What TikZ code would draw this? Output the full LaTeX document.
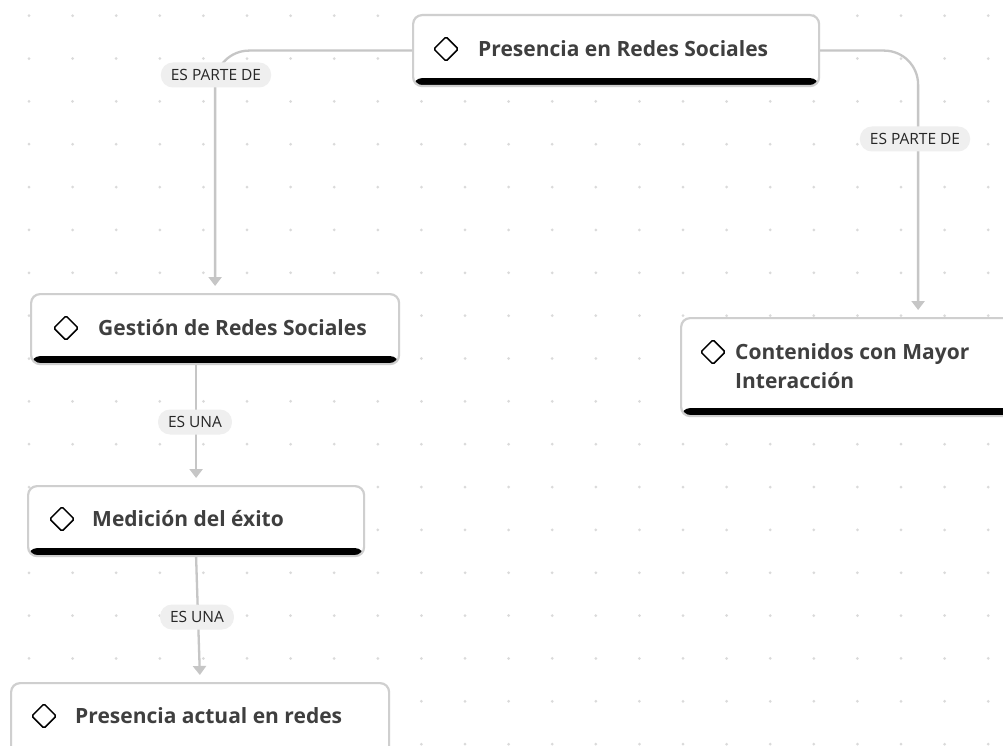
\documentclass[tikz,border=0pt]{standalone}
\usepackage{fontspec}
\setmainfont{Open Sans}
\usetikzlibrary{arrows.meta,shapes.geometric}
\definecolor{edgegray}{HTML}{C6C6C6}
\definecolor{boxgray}{HTML}{CFCFCF}
\definecolor{dotgray}{HTML}{DADADA}
\definecolor{lblfill}{HTML}{EFEFEF}
\definecolor{txt}{HTML}{3F3F3F}
\definecolor{lbltxt}{HTML}{262626}
\begin{document}
\begin{tikzpicture}[x=1pt,y=-1pt,
  box/.style={draw=boxgray, line width=2.2pt, fill=white, rounded corners=9pt,
    anchor=north west, inner sep=0pt,
    path picture={\fill[black] ([yshift=8pt]path picture bounding box.south west) rectangle (path picture bounding box.south east);}},
  icon/.style={draw=black, diamond, aspect=1, minimum size=25pt, inner sep=0pt, line width=1.5pt, rounded corners=1.5pt},
  title/.style={anchor=west, inner sep=0pt, text=txt, font=\fontsize{21}{29}\selectfont\bfseries, align=left},
  lbl/.style={fill=lblfill, rounded corners=12pt, inner xsep=10pt, minimum height=25pt, text=lbltxt, font=\fontsize{15.5}{17}\selectfont},
  conn/.style={draw=edgegray, line width=2.3pt, -{Triangle[width=13pt,length=9pt]}, shorten >=7pt},
]
\useasboundingbox (0,0) rectangle (1003,746);
\clip (0,0) rectangle (1003,746);
\fill[white] (0,0) rectangle (1003,746);
% dot grid
\foreach \i in {0,...,22}{
  \foreach \j in {0,...,17}{
    \fill[dotgray] (29+\i*43.6, 15.7+\j*42.85) circle (1.5pt);
  }
}
% boxes
\node[box, minimum width=406pt, minimum height=71pt] (n1) at (412,14) {};
\node[box, minimum width=368pt, minimum height=70pt] (n2) at (30,293) {};
\node[box, minimum width=336pt, minimum height=70pt] (n3) at (27,485) {};
\node[box, minimum width=378pt, minimum height=72pt] (n4) at (10,682) {};
\node[box, minimum width=474pt, minimum height=98pt] (n5) at (680,317) {};
% icons and texts
\node[icon] (d1) at (446,49) {};
\node[title] (t1) at (478,49) {Presencia en Redes Sociales};
\node[icon] (d2) at (66,328) {};
\node[title] (t2) at (98,328) {Gestión de Redes Sociales};
\node[icon] (d3) at (62,519) {};
\node[title] (t3) at (92,519) {Medición del éxito};
\node[icon] (d4) at (44,716) {};
\node[title] (t4) at (75,716) {Presencia actual en redes};
\node[icon] (d5) at (713,352) {};
\node[title] (t5) at (735,366.5) {Contenidos con Mayor\\Interacción};
% connectors
\draw[conn, rounded corners=34pt] (n1.west) -| (n2.north);
\draw[conn, rounded corners=34pt] (n1.east) -| (n5.north);
\draw[conn] (n3.north |- n2.south) -- (n3.north);
\draw[conn] (n3.south) -- (n4.north);
% labels
\node[lbl] (l1) at (216,75) {ES PARTE DE};
\node[lbl] (l2) at (915,139) {ES PARTE DE};
\node[lbl] (l3) at (195,422) {ES UNA};
\node[lbl] (l4) at (197,617) {ES UNA};
\end{tikzpicture}
\end{document}
